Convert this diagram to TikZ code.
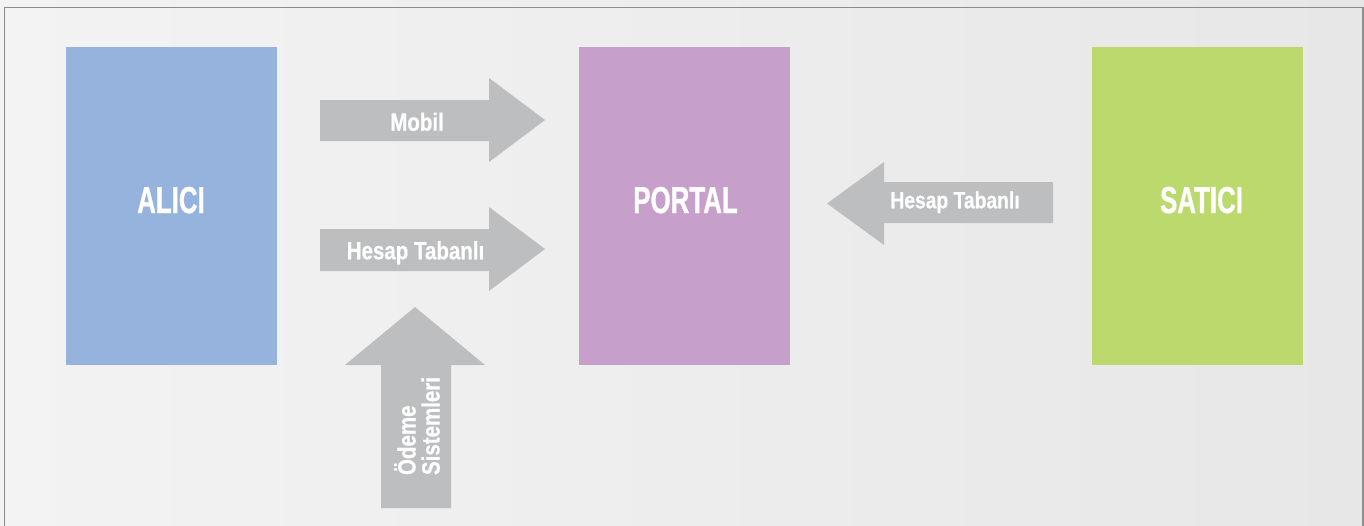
\documentclass[tikz,border=0pt]{standalone}
\usepackage{fontspec}
\newfontfamily\bigf{Liberation Sans}[FakeStretch=0.69,FakeBold=0.8]
\newfontfamily\smallf{Liberation Sans}[FakeStretch=0.82,FakeBold=0.5]
\definecolor{bgl}{HTML}{F3F3F3}
\definecolor{bgr}{HTML}{E7E7E7}
\definecolor{frame}{HTML}{8C8C8C}
\definecolor{blu}{HTML}{95B3DD}
\definecolor{pur}{HTML}{C69FCA}
\definecolor{grn}{HTML}{BCD96E}
\definecolor{arr}{HTML}{BDBEC0}
\tikzset{
  box/.style={fill=#1, draw=none},
  arrowshape/.style={fill=arr, draw=none},
  bigtxt/.style={text=white, font=\bigf\bfseries\fontsize{37.5}{40}\selectfont, inner sep=0pt, anchor=base},
  smalltxt/.style={text=white, font=\smallf\bfseries\fontsize{25}{25}\selectfont, inner sep=0pt, anchor=base},
}
\begin{document}
\begin{tikzpicture}[x=1pt,y=-1pt]
\useasboundingbox (0,0) rectangle (1364,525);
\shade[left color=bgl, right color=bgr] (0,0) rectangle (1364,525);
\draw[frame, line width=1.5pt] (4.5,530) -- (4.5,7.5) -- (1362.8,7.5) -- (1362.8,530);
% boxes
\fill[box=blu] (66,47) rectangle (277,365);
\fill[box=pur] (579,47) rectangle (790,365);
\fill[box=grn] (1092,47) rectangle (1303,365);
\node[bigtxt] (alici) at (171,213) {ALICI};
\node[bigtxt] (portal) at (685.5,213) {PORTAL};
\node[bigtxt] (satici) at (1201.5,213) {SATICI};
% arrows
\fill[arrowshape] (320,100) -- (489,100) -- (489,78) -- (545,120) -- (489,162) -- (489,141) -- (320,141) -- cycle;
\fill[arrowshape] (320,229) -- (489,229) -- (489,207) -- (545,249) -- (489,291) -- (489,271) -- (320,271) -- cycle;
\fill[arrowshape] (1053,182) -- (884,182) -- (884,162) -- (827,203.5) -- (884,245) -- (884,223) -- (1053,223) -- cycle;
\fill[arrowshape] (381,508) -- (381,365) -- (345,365) -- (415,307) -- (485,365) -- (451,365) -- (451,508) -- cycle;
\node[smalltxt] (mobil) at (417,130.7) {Mobil};
\node[smalltxt] (hesap1) at (415.5,259.3) {Hesap Tabanlı};
\node[smalltxt, font=\smallf\bfseries\fontsize{23.5}{23.5}\selectfont] (hesap2) at (955,208.3) {Hesap Tabanlı};
\node[text=white, font=\smallf\bfseries\fontsize{25}{24}\selectfont, inner sep=0pt, align=left, rotate=90] (odeme) at (417,426) {Ödeme\\Sistemleri};
\end{tikzpicture}
\end{document}
